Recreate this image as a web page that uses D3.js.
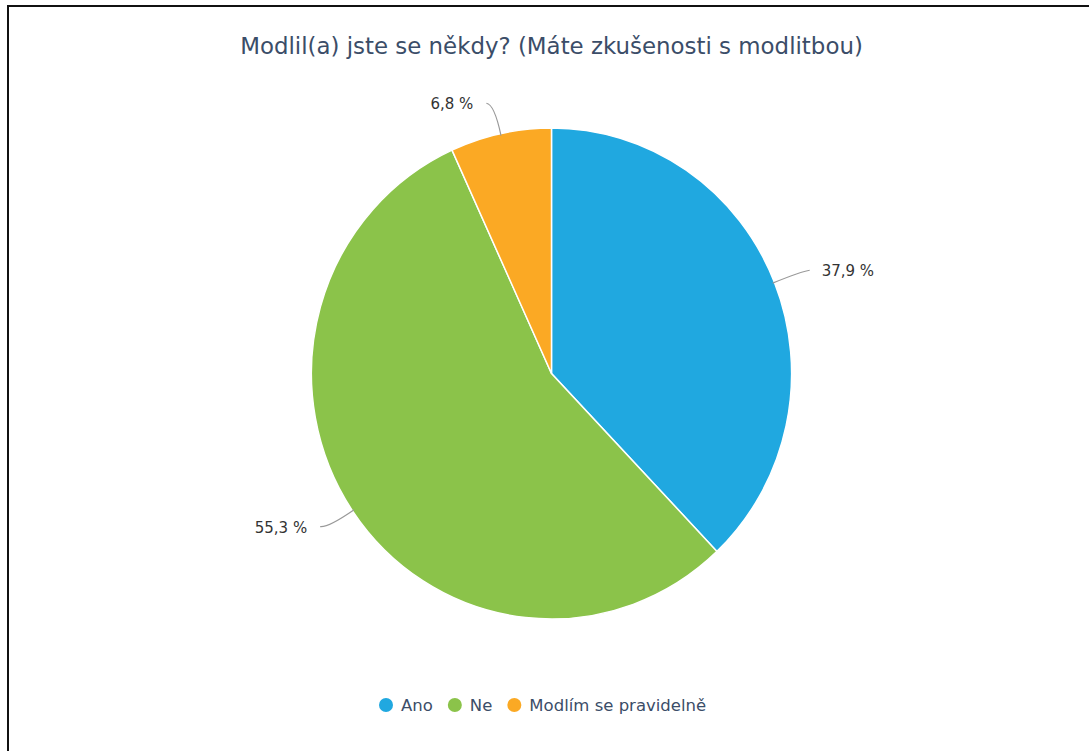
<!DOCTYPE html>
<html>
<head>
<meta charset="utf-8">
<script src="https://cdn.jsdelivr.net/npm/d3@7"></script>
<style>
  body { margin: 0; background: #fff; }
  text { font-family: "DejaVu Sans", sans-serif; }
</style>
</head>
<body>
<div id="chart"></div>
<script>
    var width = 1089;
    var height = 751;

    // chart data
    var title = "Modlil(a) jste se někdy? (Máte zkušenosti s modlitbou)";
    var categories = ["Ano", "Ne", "Modlím se pravidelně"];
    var values = [37.9, 55.3, 6.8];
    var colors = ["#20a8e0", "#8bc34a", "#fba924"];

    // the picture is slightly squeezed sideways, so the pie is a touch taller than wide
    var cx = 551.5, cy = 373.5, radius = 245.5, squeeze = 0.978;

    var svg = d3.select("#chart")
                .append("svg")
                .attr("width", width)
                .attr("height", height);

    // frame (only left and top edges show in the picture)
    svg.append("path")
       .attr("d", "M8,751 L8,6 L1089,6")
       .attr("fill", "none")
       .attr("stroke", "#111")
       .attr("stroke-width", 2);

    svg.append("text")
       .attr("x", cx)
       .attr("y", 54)
       .attr("text-anchor", "middle")
       .attr("font-size", 22.9)
       .attr("fill", "#3b4d68")
       .text(title);

    var pie = d3.pie().sort(null).value(function(d) { return d; });
    var arcs = pie(values);
    var arc = d3.arc().innerRadius(0).outerRadius(radius);

    var g = svg.append("g").attr("transform", "translate(" + cx + "," + cy + ")");

    g.append("g")
     .attr("transform", "scale(" + squeeze + ",1)")
     .selectAll("path.slice")
     .data(arcs)
     .enter()
     .append("path")
     .attr("class", "slice")
     .attr("d", arc)
     .attr("fill", function(d, i) { return colors[i]; })
     .attr("stroke", "#fff")
     .attr("stroke-width", 1.5);

    // connectors and labels
    var fmt = function(v) { return v.toFixed(1).replace(".", ",") + " %"; };
    var polar = function(a, r) { return [Math.sin(a) * r * squeeze, -Math.cos(a) * r]; };

    arcs.forEach(function(d, i) {
       var mid = (d.startAngle + d.endAngle) / 2;
       var p0 = polar(mid, radius - 2);
       var p1 = polar(mid, radius + 30);
       var right = Math.sin(mid) >= 0;
       var p2 = [p1[0] + (right ? 8 : -8), p1[1] - 1];
       g.append("path")
        .attr("d", "M" + p0 + " Q" + p1 + " " + p2)
        .attr("fill", "none")
        .attr("stroke", "#999")
        .attr("stroke-width", 1.2);
       g.append("text")
        .attr("x", p2[0] + (right ? 12 : -13))
        .attr("y", p2[1] + 6)
        .attr("text-anchor", right ? "start" : "end")
        .attr("font-size", 15)
        .attr("fill", "#333")
        .text(fmt(values[i]));
    });

    // legend
    var legend = svg.append("g").attr("transform", "translate(0,705)");
    var lx = 386;
    categories.forEach(function(c, i) {
       legend.append("circle")
             .attr("cx", lx)
             .attr("cy", 0)
             .attr("r", 7)
             .attr("fill", colors[i]);
       var t = legend.append("text")
             .attr("x", lx + 15)
             .attr("y", 6)
             .attr("font-size", 16.5)
             .attr("fill", "#3b4d68")
             .text(c);
       lx = lx + 15 + t.node().getComputedTextLength() + 22;
    });
</script>
</body>
</html>
